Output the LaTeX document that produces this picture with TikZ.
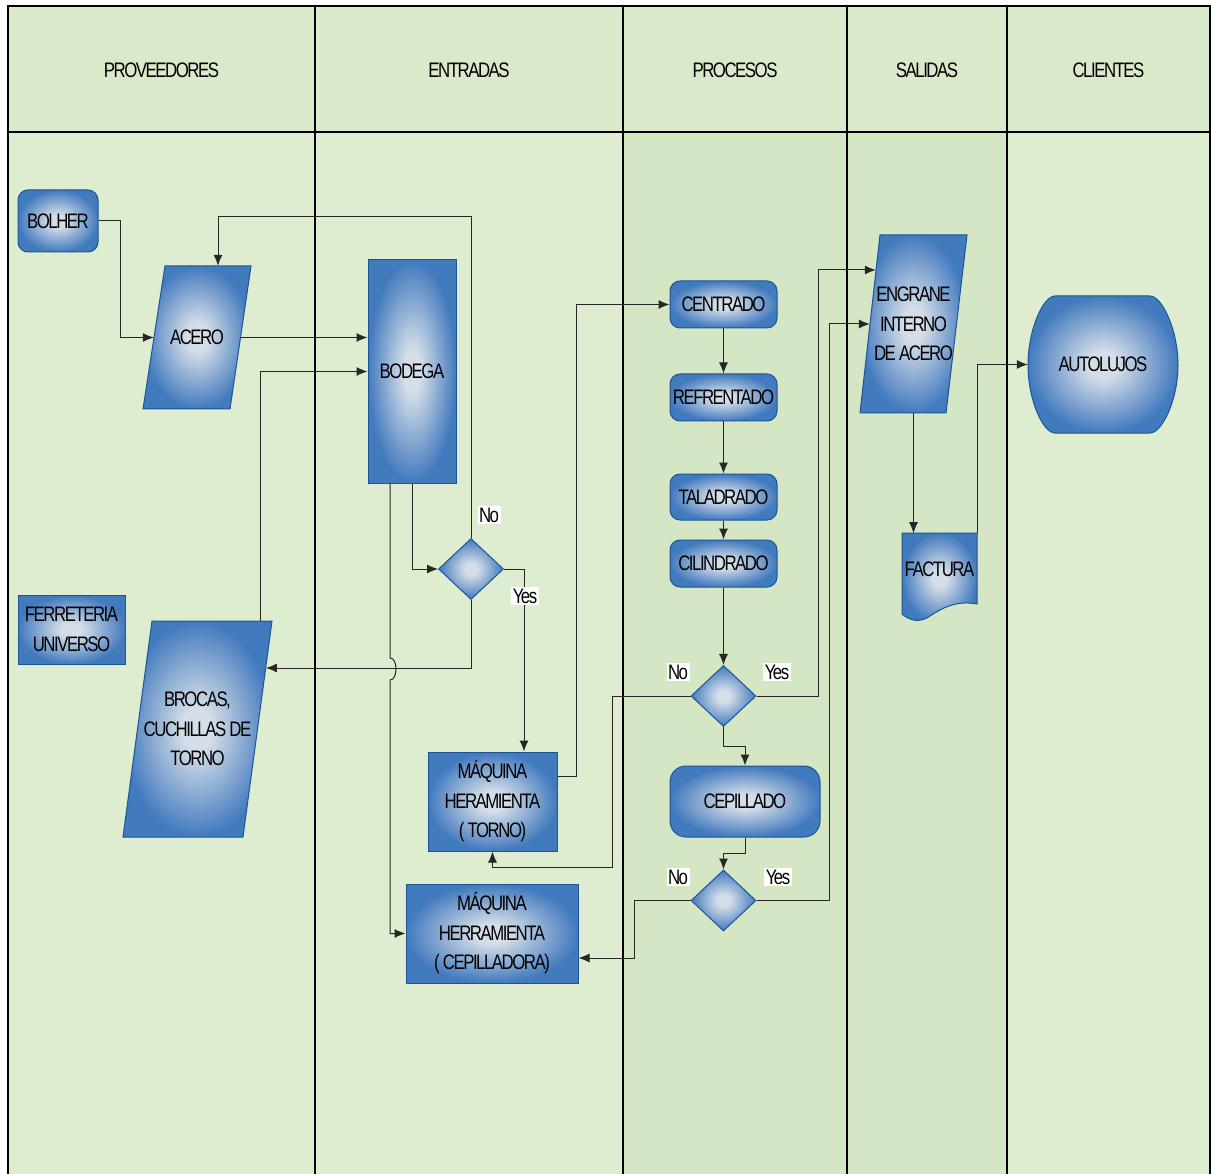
\documentclass[tikz,border=0pt]{standalone}
\usepackage{fontspec}
\setmainfont{Liberation Sans}[FakeStretch=0.8,LetterSpace=-7]
\usetikzlibrary{positioning, shapes.geometric, arrows.meta}
\definecolor{lanelight}{RGB}{222,237,207}
\definecolor{lanedark}{RGB}{213,230,197}
\definecolor{headcol}{RGB}{217,233,201}
\definecolor{boxin}{RGB}{212,221,232}
\definecolor{boxout}{RGB}{66,122,190}
\definecolor{boxline}{RGB}{28,84,152}
\pgfdeclareradialshading{boxglow}{\pgfpoint{0bp}{0bp}}{color(0bp)=(boxin); color(5bp)=(boxin); color(25bp)=(boxout); color(50bp)=(boxout)}

\begin{document}
\begin{tikzpicture}[x=1pt, y=-1pt,
        font=\fontsize{21}{29.5}\selectfont,
        lane/.style={draw=black, line width=1.2pt},
        box/.style={rectangle, draw=boxline, line width=1pt, shading=boxglow, align=center, inner sep=0pt},
        rbox/.style={box, rounded corners=10pt},
        decision/.style={box, diamond, minimum width=65pt, minimum height=61pt},
        shapefill/.style={draw=boxline, line width=1pt, shading=boxglow},
        plain/.style={rectangle, align=center, inner sep=0pt},
        lbl/.style={fill=white, inner sep=1.5pt},
        arrow/.style={-{Latex[length=11pt,width=9pt]}, line width=1pt, draw=black!85}
        ]

        \useasboundingbox (0,0) rectangle (1211,1174);
        \fill[white] (0,0) rectangle (1211,1174);
        \fill[lanelight] (8,6) rectangle (623,1174);
        \fill[lanedark] (623,6) rectangle (1007,1174);
        \fill[lanelight] (1007,6) rectangle (1210,1174);
        \fill[headcol] (8,6) rectangle (1210,132);
        \draw[lane] (8,1174) -- (8,6) -- (1210,6) -- (1210,1174);
        \draw[lane] (8,132) -- (1210,132);
        \foreach \x in {315,623,847,1007}
            \draw[lane] (\x,6) -- (\x,1174);

        \node (hprov) at (161.5,70) {PROVEEDORES};
        \node (hent) at (469,70) {ENTRADAS};
        \node (hproc) at (735,70) {PROCESOS};
        \node (hsal) at (927,70) {SALIDAS};
        \node (hcli) at (1108.5,70) {CLIENTES};

        \node[rbox, minimum width=80pt, minimum height=62pt] (bolher) at (58,221) {BOLHER};
        \shade[shapefill] (143,409) -- (165,266) -- (251,266) -- (230,409) -- cycle;
        \node[plain, minimum width=86pt, minimum height=143pt] (acero) at (197,337.5) {ACERO};
        \node[box, minimum width=107pt, minimum height=69pt] (ferre) at (71.5,629.5) {FERRETERIA\\UNIVERSO};
        \shade[shapefill] (123,837) -- (152,621) -- (272,621) -- (243,837) -- cycle;
        \node[plain, minimum width=120pt, minimum height=216pt] (brocas) at (197.5,729) {BROCAS,\\CUCHILLAS DE\\TORNO};

        \node[box, minimum width=88pt, minimum height=223pt] (bodega) at (412,371.5) {BODEGA};
        \node[decision] (d1) at (471,569) {};
        \node[box, minimum width=129pt, minimum height=99pt] (torno) at (492.5,801.5) {MÁQUINA\\HERAMIENTA\\( TORNO)};
        \node[box, minimum width=172pt, minimum height=99pt] (cepilladora) at (492,933.5) {MÁQUINA\\HERRAMIENTA\\( CEPILLADORA)};

        \node[rbox, minimum width=107pt, minimum height=47pt] (centrado) at (723.5,304.5) {CENTRADO};
        \node[rbox, minimum width=107pt, minimum height=47pt] (refrentado) at (723.5,397.5) {REFRENTADO};
        \node[rbox, minimum width=107pt, minimum height=46pt] (taladrado) at (723.5,497) {TALADRADO};
        \node[rbox, minimum width=107pt, minimum height=47pt] (cilindrado) at (723.5,563.5) {CILINDRADO};
        \node[decision] (d2) at (723.5,696) {};
        \node[rbox, rounded corners=16pt, minimum width=150pt, minimum height=71pt] (cepillado) at (745,801.5) {CEPILLADO};
        \node[decision] (d3) at (723.5,900.5) {};

        \shade[shapefill] (860,413) -- (880,235) -- (967,235) -- (946,413) -- cycle;
        \node[plain, minimum width=87pt, minimum height=178pt] (engrane) at (913.5,324) {ENGRANE\\INTERNO\\DE ACERO};
        \shade[shapefill] (902,533) -- (977,533) -- (977,604) .. controls (957,600) and (942,608) .. (930,616) .. controls (920,623) and (910,621) .. (902,614) -- cycle;
        \node[plain, minimum width=75pt, minimum height=72pt] (factura) at (939.5,569) {FACTURA};

        \shade[shapefill] (1055,296) -- (1150,296) .. controls (1162,296) and (1178,330) .. (1178,365) .. controls (1178,400) and (1162,433) .. (1150,433) -- (1055,433) .. controls (1043,433) and (1028,400) .. (1028,365) .. controls (1028,330) and (1043,296) .. (1055,296) -- cycle;
        \node[plain, minimum width=150pt, minimum height=137pt] (autolujos) at (1103,364.5) {AUTOLUJOS};

        \draw[arrow] (bolher.east) -- ++(22,0) |- (acero.west);
        \draw[arrow] (acero.east) -- (acero.east -| bodega.west);
        \draw[arrow] ([xshift=62.5pt]brocas.north) |- (bodega.west);
        \draw[arrow] (d1.north) -- ++(0,-321) -| ([xshift=21pt]acero.north);
        \draw[arrow] (bodega.south) |- (d1.west);
        \draw[arrow] (d1.east) -| ([xshift=31.5pt]torno.north);
        \draw[arrow] (d1.south) |- ([xshift=8.2pt,yshift=61pt]brocas.east);
        \draw[arrow] ([xshift=-22pt]bodega.south) -- (390,658) .. controls (398,658) and (398,680) .. (390,680) |- (cepilladora.west);
        \draw[arrow] ([yshift=25.5pt]torno.east) -- ++(19,0) |- (centrado.west);
        \draw[arrow] (centrado) -- (refrentado);
        \draw[arrow] (refrentado) -- (taladrado);
        \draw[arrow] (taladrado) -- (cilindrado);
        \draw[arrow] (cilindrado) -- (d2);
        \draw[arrow] (d2.west) -- ++(-78,0) -- ++(0,171) -| (torno.south);
        \draw[arrow] (d2.east) -- ++(62,0) |- ([xshift=6pt,yshift=54pt]engrane.west);
        \draw[arrow] (d2.south) -- ++(0,19) -| (cepillado.north);
        \draw[arrow] (cepillado.south) -- ++(0,16) -| (d3.north);
        \draw[arrow] (d3.west) -- ++(-56,0) |- ([yshift=-24.5pt]cepilladora.east);
        \draw[arrow] (d3.east) -- ++(73,0) |- (engrane.west);
        \draw[arrow] (engrane.south) -- ++(0,120);
        \draw[arrow] (factura.north east) |- (autolujos.west);

        \node[lbl] (no1) at (489,515) {No};
        \node[lbl] (yes1) at (525,596) {Yes};
        \node[lbl] (no2) at (678,672) {No};
        \node[lbl] (yes2) at (777,672) {Yes};
        \node[lbl] (no3) at (678,877) {No};
        \node[lbl] (yes3) at (778,877) {Yes};
    \end{tikzpicture}
\end{document}
